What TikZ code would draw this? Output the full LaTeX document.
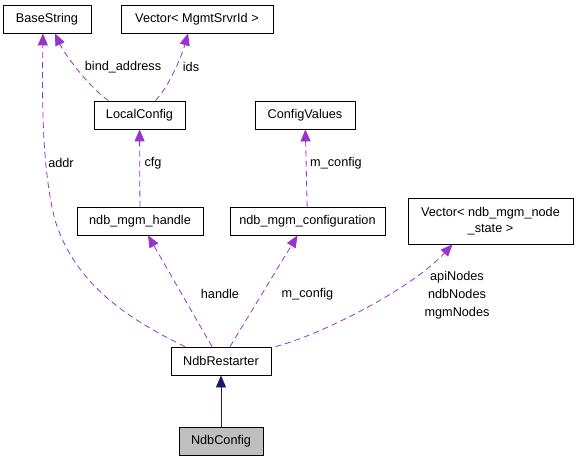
\documentclass[tikz,border=0pt]{standalone}
\usepackage{fontspec}
\setmainfont{Liberation Sans}
\usepackage{tikz}
\usetikzlibrary{arrows.meta, positioning}
\definecolor{usecol}{RGB}{154,50,205}
\definecolor{inhcol}{RGB}{25,25,112}
\definecolor{selfcol}{RGB}{191,191,191}
\tikzset{>={Triangle[length=12pt,width=10pt]}}

\begin{document}
\begin{tikzpicture}[x=1pt, y=-1pt, line width=0.8pt,
  cls/.style={draw, minimum height=28pt, inner sep=0pt, font=\fontsize{12.7}{15}\selectfont},
  lbl/.style={inner sep=0pt, font=\fontsize{12.7}{18}\selectfont, align=center},
  use/.style={->, usecol, dash pattern=on 6pt off 4pt},
  inh/.style={->, inhcol}]
\useasboundingbox (0,0) rectangle (577,461);

\node[cls, minimum width=88pt] (BS) at (47,19) {BaseString};
\node[cls, minimum width=152pt] (VM) at (197,19) {Vector< MgmtSrvrId >};
\node[cls, minimum width=91pt] (LC) at (139.5,115) {LocalConfig};
\node[cls, minimum width=100pt] (CV) at (305,115) {ConfigValues};
\node[cls, minimum width=126pt] (MH) at (140,221) {ndb\_mgm\_handle};
\node[cls, minimum width=155pt] (MC) at (307.5,221) {ndb\_mgm\_configuration};
\node[cls, minimum width=165pt, minimum height=46pt, align=center,
  font=\fontsize{12.7}{16}\selectfont] (VN) at (490.5,221) {Vector< ndb\_mgm\_node\\\_state >};
\node[cls, minimum width=100pt] (NR) at (221,361) {NdbRestarter};
\node[cls, minimum width=84pt, fill=selfcol] (NC) at (221,441) {NdbConfig};

\node[lbl] (Laddr) at (61,163) {addr};
\node[lbl] (Lbind) at (123,67) {bind\_address};
\node[lbl] (Lids) at (191,67) {ids};
\node[lbl] (Lcfg) at (153,163) {cfg};
\node[lbl] (Lmc1) at (336,163) {m\_config};
\node[lbl] (Lhandle) at (220,294) {handle};
\node[lbl] (Lmc2) at (307.5,294) {m\_config};
\node[lbl] (Lnodes) at (457,295) {apiNodes\\ndbNodes\\mgmNodes};

\draw [inh] (NC)--(NR);
\draw [use] ([xshift=-36pt]NR.north) .. controls (130,320) and (75,285) .. (55,220)
  .. controls (42,170) and (42,100) .. ([xshift=-4pt]BS.south);
\draw [use] ([xshift=-9pt]NR.north)--([xshift=8pt]MH.south);
\draw [use] ([xshift=9pt]NR.north)--([xshift=-10pt]MC.south);
\draw [use] ([xshift=4pt]NR.north east) .. controls (320,335) and (410,290) .. ([xshift=-38pt]VN.south);
\draw [use] (MH)--(LC);
\draw [use] (MC)--(CV);
\draw [use] ([xshift=-31pt]LC.north) .. controls (90,88) and (65,55) .. ([xshift=8pt]BS.south);
\draw [use] ([xshift=16pt]LC.north) .. controls (170,85) and (182,55) .. ([xshift=-9pt]VM.south);

\end{tikzpicture}
\end{document}
